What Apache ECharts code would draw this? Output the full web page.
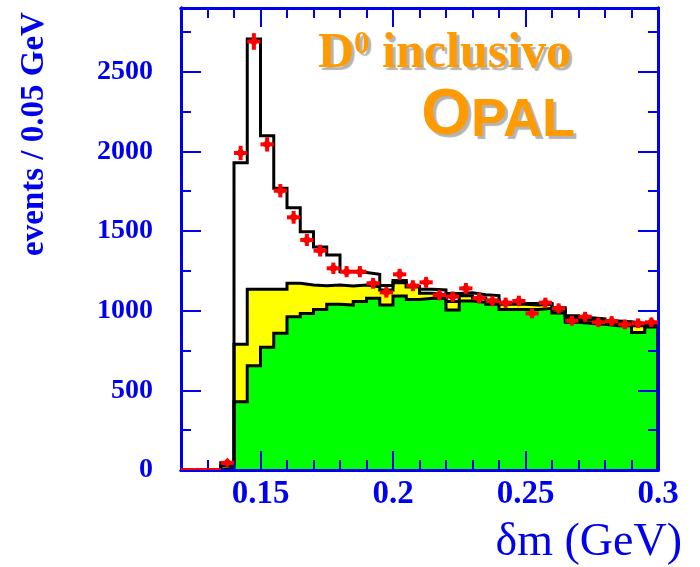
<!DOCTYPE html>
<html>
<head>
<meta charset="utf-8">
<script src="https://cdn.jsdelivr.net/npm/echarts@6/dist/echarts.min.js"></script>
<style>
  html, body { margin: 0; padding: 0; background: #ffffff; }
  #chart { width: 700px; height: 567px; }
</style>
</head>
<body>
<div id="chart"></div>
<script>
// δm spectrum in 0.005 GeV bins from 0.12 to 0.30 GeV (36 bins)
const binLow = 0.12;
const binWidth = 0.005;

// measured counts per bin (red points) and their vertical errors
const dataCounts = [0, 0, 0, 45, 1990, 2690, 2044, 1753, 1586, 1444, 1377, 1266,
  1245, 1245, 1172, 1115, 1228, 1157, 1178, 1098, 1088, 1140, 1078, 1061,
  1050, 1061, 983, 1050, 1014, 937, 962, 927, 935, 914, 921, 927];
const dataErrors = [0, 0, 0, 7, 45, 52, 45, 42, 40, 38, 37, 36,
  35, 35, 34, 33, 35, 34, 34, 33, 33, 34, 33, 33,
  32, 33, 31, 32, 32, 31, 31, 30, 31, 30, 30, 30];

// model: total (black outline), yellow component stack, green component
const totalModel = [null, null, null, 45, 1929, 2705, 2098, 1768, 1646, 1496, 1400, 1350,
  1245, 1240, 1228, 1158, 1190, 1150, 1135, 1130, 1108, 1112, 1100, 1095,
  1045, 1045, 1045, 1045, 1018, 968, 955, 948, 935, 930, 920, 918];
const yellowModel = [null, null, null, 25, 790, 1135, 1135, 1135, 1172, 1161, 1157, 1161,
  1155, 1161, 1150, 1130, 1176, 1150, 1109, 1100, 1057, 1094, 1080, 1067,
  1040, 1040, 1035, 1040, 1005, 955, 940, 935, 925, 920, 905, 910];
const greenModel = [null, null, null, 10, 429, 655, 770, 858, 962, 983, 1008, 1040,
  1035, 1057, 1078, 1036, 1092, 1071, 1078, 1078, 1004, 1061, 1053, 1040,
  1008, 1008, 1008, 1015, 985, 928, 920, 915, 905, 905, 863, 898];

// axis ticks and labels
const xMajorTicks = [0.15, 0.2, 0.25, 0.3];
const xMinorTicks = [0.13, 0.14, 0.16, 0.17, 0.18, 0.19, 0.21, 0.22, 0.23, 0.24, 0.26, 0.27, 0.28, 0.29];
const yMajorTicks = [0, 500, 1000, 1500, 2000, 2500];
const yMinorTicks = [250, 750, 1250, 1750, 2250, 2750];

const BLUE = '#0000f0';
const ORANGE = '#ff9a00';
const SERIF = '"Liberation Serif", "DejaVu Serif", serif';
const SANS = '"Liberation Sans", Arial, sans-serif';

// Histogram outline: left edge of each filled bin, closed down to zero on both ends
function stepPoints(values) {
  const pts = [];
  const first = values.findIndex(v => v !== null);
  pts.push([binLow + first * binWidth, 0]);
  for (let i = first; i < values.length; i++) {
    pts.push([binLow + i * binWidth, values[i]]);
  }
  const last = values.length - 1;
  pts.push([binLow + (last + 1) * binWidth, values[last]]);
  pts.push([binLow + (last + 1) * binWidth, 0]);
  return pts;
}

const pointData = dataCounts.map((v, i) => [binLow + (i + 0.5) * binWidth, v, dataErrors[i]]);

// Data point: horizontal bar over the bin width, vertical error bar, small diamond marker
function renderCross(params, api) {
  const x = api.value(0), y = api.value(1), e = api.value(2);
  const left = api.coord([x - binWidth / 2, y]);
  const right = api.coord([x + binWidth / 2, y]);
  const c = api.coord([x, y]);
  const red = '#ff0000';
  if (y === 0) {
    return { type: 'line', shape: { x1: left[0], y1: left[1] - 1, x2: right[0], y2: right[1] - 1 },
      style: { stroke: red, lineWidth: 2 } };
  }
  const top = api.coord([x, y + e]);
  const bot = api.coord([x, y - e]);
  const d = 5;
  return {
    type: 'group',
    children: [
      { type: 'line', shape: { x1: left[0], y1: c[1], x2: right[0], y2: c[1] }, style: { stroke: red, lineWidth: 4 } },
      { type: 'line', shape: { x1: c[0], y1: top[1], x2: c[0], y2: bot[1] }, style: { stroke: red, lineWidth: 4 } },
      { type: 'polygon', shape: { points: [[c[0] - d, c[1]], [c[0], c[1] - d], [c[0] + d, c[1]], [c[0], c[1] + d]] }, style: { fill: red } }
    ]
  };
}

function xAxisDef(position, ticks, len, withLabels) {
  return {
    type: 'value', position: position, min: 0.12, max: 0.3, z: 5,
    axisLine: { show: true, onZero: false, lineStyle: { color: BLUE, width: 3 } },
    axisTick: { show: true, inside: true, length: len, customValues: ticks, lineStyle: { color: BLUE, width: 2 } },
    axisLabel: withLabels ? {
      show: true, customValues: ticks, margin: 8, color: BLUE,
      fontFamily: SERIF, fontWeight: 'bold', fontSize: 33,
      formatter: v => String(v)
    } : { show: false },
    splitLine: { show: false }
  };
}

function yAxisDef(position, ticks, len, withLabels) {
  return {
    type: 'value', position: position, min: 0, max: 2900, z: 5,
    axisLine: { show: true, onZero: false, lineStyle: { color: BLUE, width: 3 } },
    axisTick: { show: true, inside: true, length: len, customValues: ticks, lineStyle: { color: BLUE, width: 2 } },
    axisLabel: withLabels ? {
      show: true, customValues: ticks, margin: 28, color: BLUE,
      fontFamily: SERIF, fontWeight: 'bold', fontSize: 28,
      formatter: v => String(v)
    } : { show: false },
    splitLine: { show: false }
  };
}

const xBottom = xAxisDef('bottom', xMajorTicks, 19, true);
xBottom.name = 'δm (GeV)';
xBottom.nameLocation = 'end';
xBottom.nameGap = 24;
xBottom.nameTextStyle = { fontFamily: SERIF, fontSize: 46, color: BLUE, align: 'right', verticalAlign: 'top', padding: [50, 0, 0, 0] };

const yLeft = yAxisDef('left', yMajorTicks, 20, true);
yLeft.name = 'events / 0.05 GeV';
yLeft.nameLocation = 'middle';
yLeft.nameRotate = 90;
yLeft.nameGap = 130;
yLeft.nameTextStyle = { fontFamily: SERIF, fontWeight: 'bold', fontSize: 33, color: BLUE, padding: [0, 0, 0, 210] };

const shadow = { textShadowColor: '#b4b4b4', textShadowOffsetX: 3, textShadowOffsetY: 3, textShadowBlur: 1 };

const option = {
  animation: false,
  backgroundColor: '#ffffff',
  grid: { left: 181, right: 42, top: 8, bottom: 97, containLabel: false },
  title: [
    {
      text: '{d|D}{s|0}{t| inclusivo}', left: 313, top: 24,
      textStyle: { rich: {
        d: Object.assign({ fontFamily: SERIF, fontWeight: 'bold', fontSize: 50, color: ORANGE }, shadow),
        s: Object.assign({ fontFamily: SERIF, fontWeight: 'bold', fontSize: 31, color: ORANGE, verticalAlign: 'top' }, shadow),
        t: Object.assign({ fontFamily: SERIF, fontWeight: 'bold', fontSize: 50, color: ORANGE }, shadow)
      } }
    },
    {
      text: '{o|O}{p|PAL}', right: 120, top: 79,
      textStyle: { rich: {
        o: Object.assign({ fontFamily: SANS, fontWeight: 'bold', fontSize: 64, color: ORANGE, verticalAlign: 'bottom' }, shadow),
        p: Object.assign({ fontFamily: SANS, fontWeight: 'bold', fontSize: 54, color: ORANGE, verticalAlign: 'bottom' }, shadow)
      } }
    }
  ],
  xAxis: [
    xBottom,
    xAxisDef('bottom', xMinorTicks, 10, false),
    xAxisDef('top', xMajorTicks, 19, false),
    xAxisDef('top', xMinorTicks, 10, false)
  ],
  yAxis: [
    yLeft,
    yAxisDef('left', yMinorTicks, 10, false),
    yAxisDef('right', yMajorTicks, 20, false),
    yAxisDef('right', yMinorTicks, 10, false)
  ],
  series: [
    {
      name: 'total', type: 'line', step: 'end', symbol: 'none', data: stepPoints(totalModel),
      lineStyle: { color: '#000000', width: 3, join: 'miter' }, z: 1
    },
    {
      name: 'yellow', type: 'line', step: 'end', symbol: 'none', data: stepPoints(yellowModel),
      lineStyle: { color: '#000000', width: 3, join: 'miter' },
      areaStyle: { color: '#ffff00', opacity: 1, origin: 'start' }, z: 1
    },
    {
      name: 'green', type: 'line', step: 'end', symbol: 'none', data: stepPoints(greenModel),
      lineStyle: { color: '#000000', width: 3, join: 'miter' },
      areaStyle: { color: '#00ff00', opacity: 1, origin: 'start' }, z: 1
    },
    {
      name: 'data', type: 'custom', renderItem: renderCross, data: pointData,
      encode: { x: 0, y: 1 }, clip: false, z: 8
    }
  ]
};

const chart = echarts.init(document.getElementById('chart'), null, { renderer: 'canvas' });
chart.setOption(option);
</script>
</body>
</html>
